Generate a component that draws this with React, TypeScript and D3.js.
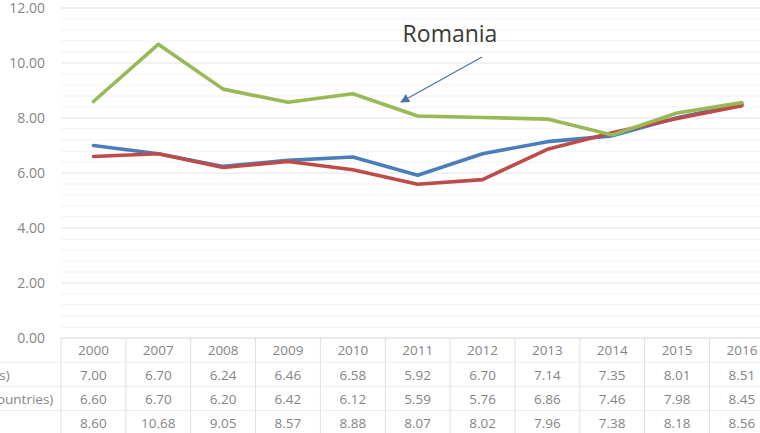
import React from "react";
import * as d3 from "d3";

const years = ["2000", "2007", "2008", "2009", "2010", "2011", "2012", "2013", "2014", "2015", "2016"];
const seriesNames = ["EU (28 countries)", "Euro area (19 countries)", "Romania"];
const euValues = [7.0, 6.7, 6.24, 6.46, 6.58, 5.92, 6.7, 7.14, 7.35, 8.01, 8.51];
const euroAreaValues = [6.6, 6.7, 6.2, 6.42, 6.12, 5.59, 5.76, 6.86, 7.46, 7.98, 8.45];
const romaniaValues = [8.6, 10.68, 9.05, 8.57, 8.88, 8.07, 8.02, 7.96, 7.38, 8.18, 8.56];
const yTicks = [0, 2, 4, 6, 8, 10, 12];
const annotation = "Romania";

const W = 760;
const H = 433;
const colors = ["#4a7ebb", "#be4b48", "#98b954"];

export default function App() {
  const seriesValues = [euValues, euroAreaValues, romaniaValues];
  const x = d3.scaleBand<string>().domain(years).range([61, 61 + 11 * 64.85]);
  const y = d3.scaleLinear().domain([0, 12]).range([338, 8]);
  const minorTicks = d3.range(0, 12.001, 0.4).filter((v) => Math.abs(v / 2 - Math.round(v / 2)) > 1e-6);
  const line = d3
    .line<number>()
    .x((_, i) => (x(years[i]) as number) + x.bandwidth() / 2)
    .y((v) => y(v));
  const font = "'Open Sans', sans-serif";
  const plotRight = W + 20;
  const rowH = 24.2;
  const tableTop = y(0);
  const rowCenters = [0, 1, 2, 3].map((r) => tableTop + rowH * r + rowH / 2 + 0.5);
  const textColor = "#858585";

  return (
    <svg
      width={W}
      height={H}
      style={{ position: "absolute", left: 0, top: 0, background: "#fff" }}
      fontFamily={font}
    >
      {minorTicks.map((t) => (
        <line key={"m" + t} x1={61} x2={plotRight} y1={y(t)} y2={y(t)} stroke="#f1f1f1" strokeWidth={1} />
      ))}
      {yTicks.map((t) => (
        <line key={"g" + t} x1={61} x2={plotRight} y1={y(t)} y2={y(t)} stroke={t === 0 ? "#d6d6d6" : "#e2e2e2"} strokeWidth={1} />
      ))}
      {yTicks.map((t) => (
        <text key={"t" + t} x={45} y={y(t)} dy="0.35em" textAnchor="end" fontSize={14} fill={textColor}>
          {d3.format(".2f")(t)}
        </text>
      ))}
      {years.map((yr) => (
        <line key={"v" + yr} x1={x(yr) as number} x2={x(yr) as number} y1={tableTop} y2={H} stroke="#e0e0e0" />
      ))}
      {[1, 2, 3].map((r) => (
        <line key={"h" + r} x1={0} x2={plotRight} y1={tableTop + rowH * r} y2={tableTop + rowH * r} stroke="#ececec" />
      ))}
      {years.map((yr) => (
        <text
          key={"y" + yr}
          x={(x(yr) as number) + x.bandwidth() / 2}
          y={rowCenters[0]}
          dy="0.35em"
          textAnchor="middle"
          fontSize={13.5}
          fill={textColor}
        >
          {yr}
        </text>
      ))}
      {seriesValues.map((vals, si) => (
        <g key={"row" + si}>
          <text x={-97} y={rowCenters[si + 1]} dy="0.35em" fontSize={13.5} fill={textColor}>
            {seriesNames[si]}
          </text>
          {vals.map((v, i) => (
            <text
              key={i}
              x={(x(years[i]) as number) + x.bandwidth() / 2}
              y={rowCenters[si + 1]}
              dy="0.35em"
              textAnchor="middle"
              fontSize={13.5}
              fill={textColor}
            >
              {d3.format(".2f")(v)}
            </text>
          ))}
        </g>
      ))}
      {seriesValues.map((vals, si) => (
        <path
          key={"l" + si}
          d={line(vals) as string}
          fill="none"
          stroke={colors[si]}
          strokeWidth={3.6}
          strokeLinejoin="round"
          strokeLinecap="round"
        />
      ))}
      <defs>
        <marker id="arr" viewBox="0 0 10 10" refX={9} refY={5} markerWidth={7} markerHeight={7} orient="auto-start-reverse">
          <path d="M0,0 L10,5 L0,10 z" fill="#4f72a6" />
        </marker>
      </defs>
      <line x1={482} y1={57} x2={401} y2={102} stroke="#4f72a6" strokeWidth={1.3} markerEnd="url(#arr)" />
      <text x={450} y={42} textAnchor="middle" fontSize={23} fill="#3a3a3a">
        {annotation}
      </text>
    </svg>
  );
}
